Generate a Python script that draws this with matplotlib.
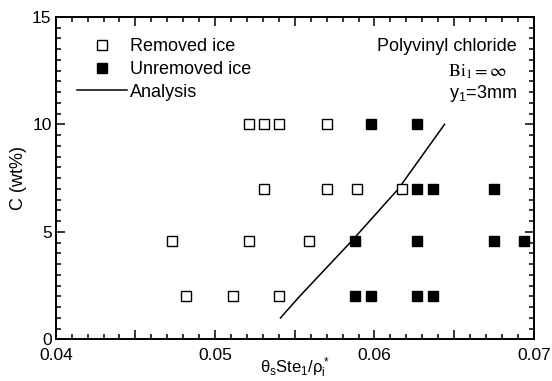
import matplotlib
matplotlib.use('Agg')
import matplotlib.pyplot as plt
from matplotlib.ticker import MultipleLocator, FuncFormatter
from matplotlib.lines import Line2D

plt.rcParams['font.family'] = ['Liberation Sans', 'DejaVu Sans']
plt.rcParams['mathtext.fontset'] = 'custom'
plt.rcParams['mathtext.rm'] = 'Liberation Sans'
plt.rcParams['mathtext.it'] = 'Liberation Sans'

# Removed ice (open squares)
removed_x = [0.0521, 0.0531, 0.0540, 0.0570,
             0.0531, 0.0570, 0.0589, 0.0617,
             0.0473, 0.0521, 0.0559,
             0.0482, 0.0511, 0.0540]
removed_c = [10, 10, 10, 10,
             7, 7, 7, 7,
             4.6, 4.6, 4.6,
             2, 2, 2]

# Unremoved ice (filled squares)
unremoved_x = [0.0598, 0.0627,
               0.0627, 0.0637, 0.0675,
               0.0588, 0.0627, 0.0675, 0.0694,
               0.0588, 0.0598, 0.0627, 0.0637]
unremoved_c = [10, 10,
               7, 7, 7,
               4.6, 4.6, 4.6, 4.6,
               2, 2, 2, 2]

# Analysis curve
analysis_x = [0.0541, 0.0553, 0.0586, 0.0615, 0.0644]
analysis_c = [1.0, 2.0, 4.6, 7.0, 10.0]

fig = plt.figure(figsize=(5.52, 3.81), dpi=100)
ax = fig.add_axes([0.101, 0.109, 0.866, 0.847])

ms = 7.5
ax.plot(removed_x, removed_c, 's', ms=ms, mfc='white', mec='black', mew=1.0,
        clip_on=False, zorder=3)
ax.plot(unremoved_x, unremoved_c, 's', ms=ms, mfc='black', mec='black', mew=1.0,
        clip_on=False, zorder=3)
ax.plot(analysis_x, analysis_c, '-', color='black', lw=1.1)

ax.set_xlim(0.04, 0.07)
ax.set_ylim(0, 15)

ax.xaxis.set_major_locator(MultipleLocator(0.005))
ax.xaxis.set_minor_locator(MultipleLocator(0.001))
ax.xaxis.set_major_formatter(FuncFormatter(
    lambda v, p: ('%g' % round(v, 3)) if abs(round(v * 100) - v * 100) < 1e-6 else ''))
ax.yaxis.set_major_locator(MultipleLocator(5))
ax.yaxis.set_minor_locator(MultipleLocator(0.5))

ax.tick_params(which='both', direction='in', top=True, right=True, width=1.1,
               labelsize=12.5)
ax.tick_params(which='major', length=6.5)
ax.tick_params(which='minor', length=3.5)
ax.tick_params(axis='x', pad=6)
ax.tick_params(axis='y', pad=3)
for s in ax.spines.values():
    s.set_linewidth(1.4)

ax.set_xlabel(r'$\mathrm{\theta_sSte_1/\rho_i^*}$', fontsize=12, labelpad=-5)
ax.set_ylabel('C (wt%)', fontsize=13, labelpad=4)

handles = [
    Line2D([], [], ls='none', marker='s', ms=ms, mfc='white', mec='black', mew=1.0),
    Line2D([], [], ls='none', marker='s', ms=ms, mfc='black', mec='black', mew=1.0),
    Line2D([], [], color='black', lw=1.1),
]
ax.legend(handles, ['Removed ice', 'Unremoved ice', 'Analysis'],
          loc='upper left', bbox_to_anchor=(0.036, 0.945), frameon=False,
          fontsize=13, handlelength=2.8, handletextpad=0.15,
          labelspacing=0.32, borderaxespad=0, borderpad=0.2)

ax.text(0.965, 0.909, 'Polyvinyl chloride', transform=ax.transAxes,
        ha='right', va='center', fontsize=13)
ax.text(0.944, 0.829, r'$\mathrm{Bi}_1 = \infty$', transform=ax.transAxes,
        ha='right', va='center', fontsize=13, math_fontfamily='stix')
ax.text(0.965, 0.763, r'y$_1$=3mm', transform=ax.transAxes,
        ha='right', va='center', fontsize=13)

fig.savefig('out.png', dpi=100)
